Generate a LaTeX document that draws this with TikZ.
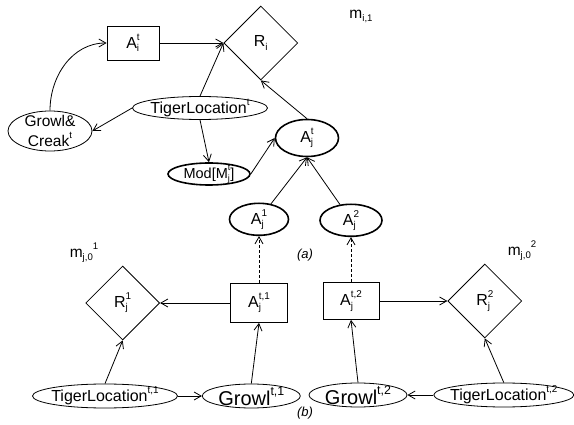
\documentclass[tikz,border=0pt]{standalone}
\usepackage{fontspec}
\setmainfont{Liberation Sans}
\usetikzlibrary{arrows.meta,positioning,shapes.geometric}
\makeatletter
\newcommand{\idx}{\fontsize{\the\dimexpr0.62\dimexpr\f@size pt\relax\relax}{0pt}\selectfont}
\makeatother
\newcommand{\sbx}[1]{\raisebox{-0.2em}{\idx #1}}
\newcommand{\spx}[1]{\raisebox{0.5em}{\idx #1}}
\newcommand{\sbsp}[2]{\rlap{\sbx{#1}}\spx{#2}}

\begin{document}
\begin{tikzpicture}[
	x=1pt, y=-1pt,
	every node/.style={inner sep=0pt, font=\fontsize{16}{18}\selectfont},
	act/.style={draw, line width=0.8pt, minimum width=52pt, minimum height=34pt},
	util/.style={draw, diamond, line width=0.8pt, minimum width=74pt, minimum height=74pt},
	chance/.style={draw, ellipse, line width=0.8pt, inner sep=-5pt},
	model/.style={draw, ellipse, line width=1.6pt, inner sep=-5pt},
	lbl/.style={font=\fontsize{15.5}{16}\selectfont},
	partlbl/.style={font=\fontsize{13}{14}\selectfont\itshape},
	arr/.style={-{Straight Barb[length=7pt,width=8pt]}, line width=0.8pt}
	]
	\useasboundingbox (0,0) rectangle (574,425);
	
	\node[act] (ai) at (133,43) {A\sbsp{i}{t}};
	\node[util, right=64pt of ai] (ri) {R\sbx{i}};
	\node[lbl] (mi) at (361,16) {m\sbx{i,1}};
	
	\node[chance, minimum width=135pt, minimum height=23pt] (tl) at (200,108) {TigerLocation\spx{t}};
	\node[chance, minimum width=84pt, minimum height=40pt, inner sep=-6pt, align=center, font=\fontsize{15.5}{20}\selectfont] (gc) at (50,131) {Growl\&\\Creak\spx{t}};
	\node[model, minimum width=82pt, minimum height=22pt, font=\fontsize{14.5}{16}\selectfont] (mod) at (209,174) {Mod[M\sbsp{j}{t}]};
	\node[model, minimum width=63pt, minimum height=37pt] (ajt) at (307,138) {A\sbsp{j}{t}};
	
	\node[act, minimum width=57pt, minimum height=39pt] (ajt1) at (259,303) {A\sbsp{j}{t,1}};
	\node[act, minimum width=56pt, minimum height=37pt] (ajt2) at (351,301) {A\sbsp{j}{t,2}};
	\node[model, minimum width=59pt, minimum height=32pt, above=47pt of ajt1] (aj1) {A\sbsp{j}{1}};
	\node[model, minimum width=62pt, minimum height=32pt, above=45pt of ajt2] (aj2) {A\sbsp{j}{2}};
	\node[util, left=70pt of ajt1] (rj1) {R\sbsp{j}{1}};
	\node[util, right=68pt of ajt2] (rj2) {R\sbsp{j}{2}};
	\node[lbl] (mj1) at (84,253) {m\sbx{j,0}\spx{1}};
	\node[lbl] (mj2) at (522,251) {m\sbx{j,0}\spx{2}};
	\node[partlbl] (capa) at (305,255) {(a)};
	
	\node[chance, minimum width=145pt, minimum height=24pt] (tl1) at (105,396) {TigerLocation\spx{t,1}};
	\node[chance, minimum width=98pt, minimum height=24pt, font=\fontsize{20}{22}\selectfont, right=24pt of tl1] (g1) {Growl\spx{t,1}};
	\node[chance, minimum width=98pt, minimum height=24pt, font=\fontsize{20}{22}\selectfont] (g2) at (358,395) {Growl\spx{t,2}};
	\node[chance, minimum width=140pt, minimum height=24pt, right=26pt of g2] (tl2) {TigerLocation\spx{t,2}};
	\node[partlbl] (capb) at (305,413) {(b)};
	
	\draw[arr] (gc.north) to[out=90, in=180] (ai.west);
	\draw[arr] (ai.east) -- (ri.west);
	\draw[arr] (tl.north) -- (ri.west);
	\draw[arr] (tl.west) -- (gc.east);
	\draw[arr] (tl.south) -- (mod.north);
	\draw[arr] (mod.east) -- (ajt.west);
	\draw[arr] (ajt.north) -- (ri.south);
	\draw[arr] (aj1) -- (ajt.south);
	\draw[arr] (aj2) -- (ajt.south);
	
	\draw[arr, dash pattern=on 3pt off 2pt] (ajt1) -- (aj1);
	\draw[arr, dash pattern=on 3pt off 2pt] (ajt2) -- (aj2);
	\draw[arr] (ajt1) -- (rj1);
	\draw[arr] (ajt2) -- (rj2);
	\draw[arr] (tl1.north) -- (rj1.south);
	\draw[arr] (tl1) -- (g1);
	\draw[arr] (g1.north) -- (ajt1.south);
	\draw[arr] (tl2) -- (g2);
	\draw[arr] (g2.north) -- (ajt2.south);
	\draw[arr] (tl2.north) -- (rj2.south);
	
\end{tikzpicture}
\end{document}
